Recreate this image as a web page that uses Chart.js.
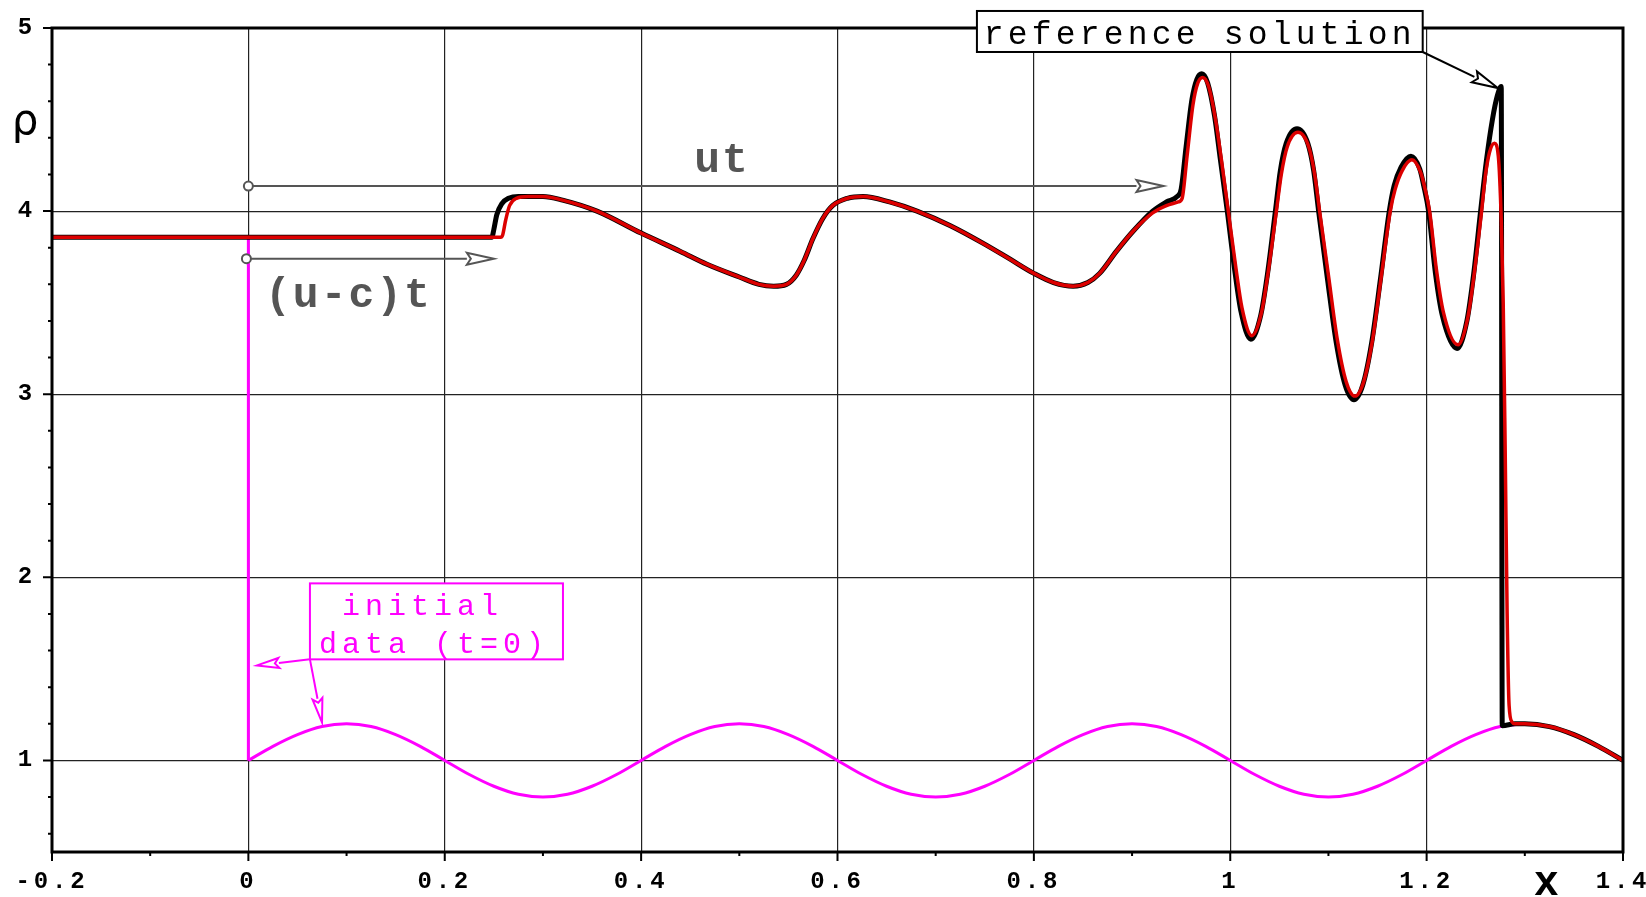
<!DOCTYPE html>
<html lang="en">
<head>
<meta charset="UTF-8">
<title>Density profile</title>
<script src="https://cdn.jsdelivr.net/npm/chart.js"></script>
<style>
html, body { margin: 0; padding: 0; background: #fff; }
#chart { display: block; }
</style>
</head>
<body>
<canvas id="chart" width="1646" height="897"></canvas>
<script>
// axis ticks
const xTicks = [-0.2, 0, 0.2, 0.4, 0.6, 0.8, 1, 1.2, 1.4];
const yTicks = [1, 2, 3, 4, 5];
const xMinor = [-0.1, 0.1, 0.3, 0.5, 0.7, 0.9, 1.1, 1.3];
const yMinor = [0.6, 0.8, 1.2, 1.4, 1.6, 1.8, 2.2, 2.4, 2.6, 2.8, 3.2, 3.4, 3.6, 3.8, 4.2, 4.4, 4.6, 4.8];

// initial data (t=0): jump at x=0, then the sine wave
const initJumpX = [0, 0];
const initJumpY = [3.857, 1.0];
const initX = [0, 0.025, 0.05, 0.075, 0.1, 0.125, 0.15, 0.175, 0.2, 0.225,
    0.25, 0.275, 0.3, 0.325, 0.35, 0.375, 0.4, 0.425, 0.45, 0.475,
    0.5, 0.525, 0.55, 0.575, 0.6, 0.625, 0.65, 0.675, 0.7, 0.725,
    0.75, 0.775, 0.8, 0.825, 0.85, 0.875, 0.9, 0.925, 0.95, 0.975,
    1, 1.025, 1.05, 1.075, 1.1, 1.125, 1.15, 1.175, 1.2, 1.225,
    1.25, 1.275, 1.3];
const initY = [1, 1.077, 1.141, 1.185, 1.2, 1.185, 1.141, 1.077, 1, 0.923,
    0.859, 0.815, 0.8, 0.815, 0.859, 0.923, 1, 1.077, 1.141, 1.185,
    1.2, 1.185, 1.141, 1.077, 1, 0.923, 0.859, 0.815, 0.8, 0.815,
    0.859, 0.923, 1, 1.077, 1.141, 1.185, 1.2, 1.185, 1.141, 1.077,
    1, 0.923, 0.859, 0.815, 0.8, 0.815, 0.859, 0.923, 1, 1.077,
    1.141, 1.185, 1.2];

// numerical solution (red)
const numX = [-0.2, 0.257, 0.259, 0.262, 0.266, 0.273, 0.285, 0.30, 0.32, 0.355,
    0.40, 0.44, 0.467, 0.50, 0.52, 0.535, 0.548, 0.558, 0.566, 0.575,
    0.585, 0.595, 0.61, 0.626, 0.653, 0.681, 0.715, 0.748, 0.775, 0.80,
    0.82, 0.84, 0.855, 0.867, 0.884, 0.901, 0.921, 0.935, 0.947, 0.951,
    0.956, 0.962, 0.967, 0.972, 0.978, 0.985, 0.991, 0.998, 1.006, 1.012,
    1.022, 1.032, 1.039, 1.047, 1.052, 1.058, 1.069, 1.080, 1.086, 1.091,
    1.100, 1.109, 1.118, 1.127, 1.136, 1.145, 1.154, 1.163, 1.168, 1.175,
    1.185, 1.194, 1.198, 1.203, 1.210, 1.217, 1.232, 1.242, 1.249, 1.256,
    1.260, 1.264, 1.269, 1.273, 1.276, 1.278, 1.280, 1.282, 1.284, 1.287,
    1.29, 1.30, 1.325, 1.35, 1.375, 1.4];
const numY = [3.857, 3.857, 3.87, 3.95, 4.03, 4.07, 4.08, 4.08, 4.06, 4.0,
    3.88, 3.78, 3.71, 3.64, 3.60, 3.59, 3.60, 3.65, 3.73, 3.85,
    3.96, 4.03, 4.07, 4.08, 4.05, 4.0, 3.92, 3.825, 3.74, 3.66,
    3.61, 3.59, 3.61, 3.66, 3.78, 3.89, 3.99, 4.03, 4.05, 4.07,
    4.30, 4.58, 4.70, 4.73, 4.68, 4.50, 4.28, 4.0, 3.68, 3.47,
    3.32, 3.45, 3.68, 4.0, 4.20, 4.35, 4.43, 4.35, 4.20, 4.0,
    3.65, 3.30, 3.07, 2.99, 3.07, 3.30, 3.65, 4.0, 4.12, 4.22,
    4.28, 4.21, 4.13, 4.0, 3.68, 3.45, 3.27, 3.42, 3.68, 4.0,
    4.20, 4.32, 4.37, 4.30, 3.95, 3.5, 2.7, 1.8, 1.3, 1.21,
    1.2, 1.2, 1.185, 1.141, 1.077, 1.0];

// reference solution (black)
const refX = [-0.2, 0.248, 0.250, 0.253, 0.258, 0.265, 0.275, 0.29, 0.30, 0.32,
    0.355, 0.40, 0.44, 0.467, 0.50, 0.52, 0.535, 0.548, 0.558, 0.566,
    0.575, 0.585, 0.595, 0.61, 0.626, 0.653, 0.681, 0.715, 0.748, 0.775,
    0.80, 0.82, 0.84, 0.855, 0.867, 0.884, 0.901, 0.921, 0.935, 0.946,
    0.950, 0.955, 0.961, 0.966, 0.971, 0.977, 0.984, 0.990, 0.997, 1.005,
    1.011, 1.021, 1.031, 1.038, 1.046, 1.051, 1.057, 1.068, 1.079, 1.085,
    1.090, 1.099, 1.108, 1.117, 1.126, 1.135, 1.144, 1.153, 1.162, 1.167,
    1.174, 1.184, 1.193, 1.197, 1.202, 1.209, 1.216, 1.231, 1.241, 1.248,
    1.255, 1.261, 1.267, 1.272, 1.276, 1.277, 1.29, 1.30, 1.325, 1.35,
    1.375, 1.4];
const refY = [3.857, 3.857, 3.90, 3.98, 4.04, 4.07, 4.08, 4.08, 4.08, 4.06,
    4.0, 3.88, 3.78, 3.71, 3.64, 3.60, 3.59, 3.60, 3.65, 3.73,
    3.85, 3.96, 4.03, 4.07, 4.08, 4.05, 4.0, 3.92, 3.825, 3.74,
    3.66, 3.61, 3.59, 3.61, 3.66, 3.78, 3.89, 4.0, 4.05, 4.08,
    4.12, 4.35, 4.61, 4.72, 4.75, 4.70, 4.52, 4.28, 4.0, 3.66,
    3.45, 3.30, 3.43, 3.66, 4.0, 4.22, 4.37, 4.45, 4.37, 4.22,
    4.0, 3.63, 3.28, 3.05, 2.97, 3.05, 3.28, 3.63, 4.0, 4.14,
    4.24, 4.30, 4.23, 4.14, 4.0, 3.66, 3.43, 3.25, 3.40, 3.66,
    4.0, 4.28, 4.50, 4.63, 4.68, 1.19, 1.2, 1.2, 1.185, 1.141,
    1.077, 1.0];

const pts = (xs, ys) => xs.map((x, i) => ({ x: x, y: ys[i] }));

function openArrow(ctx, x1, y1, x2, y2, len, half) {
    const a = Math.atan2(y2 - y1, x2 - x1);
    const bx = x2 - len * Math.cos(a), by = y2 - len * Math.sin(a);
    ctx.beginPath();
    ctx.moveTo(x1, y1);
    ctx.lineTo(bx, by);
    ctx.stroke();
    ctx.beginPath();
    ctx.moveTo(x2, y2);
    ctx.lineTo(bx + half * Math.sin(a), by - half * Math.cos(a));
    ctx.lineTo(bx + 4 * Math.cos(a), by + 4 * Math.sin(a));
    ctx.lineTo(bx - half * Math.sin(a), by + half * Math.cos(a));
    ctx.closePath();
    ctx.fillStyle = '#fff';
    ctx.fill();
    ctx.stroke();
}

function ring(ctx, x, y) {
    ctx.beginPath();
    ctx.arc(x, y, 4.5, 0, Math.PI * 2);
    ctx.fillStyle = '#fff';
    ctx.fill();
    ctx.stroke();
}

const frame = {
    id: 'frame',
    beforeDraw(chart) {
        chart.ctx.letterSpacing = '3.8px';
    },
    afterDatasetsDraw(chart) {
        const { ctx, chartArea: a, scales: { x, y } } = chart;
        ctx.save();
        ctx.strokeStyle = '#000';
        ctx.lineWidth = 3;
        ctx.strokeRect(a.left, a.top, a.right - a.left, a.bottom - a.top);
        ctx.lineWidth = 2;
        ctx.beginPath();
        xTicks.forEach(v => { const p = x.getPixelForValue(v); ctx.moveTo(p, a.bottom); ctx.lineTo(p, a.bottom + 9); });
        xMinor.forEach(v => { const p = x.getPixelForValue(v); ctx.moveTo(p, a.bottom); ctx.lineTo(p, a.bottom + 4); });
        yTicks.forEach(v => { const p = y.getPixelForValue(v); ctx.moveTo(a.left, p); ctx.lineTo(a.left - 9, p); });
        yMinor.forEach(v => { const p = y.getPixelForValue(v); ctx.moveTo(a.left, p); ctx.lineTo(a.left - 4, p); });
        ctx.stroke();
        ctx.restore();
    },
    afterDraw(chart) {
        const { ctx, scales: { x, y } } = chart;
        const X = v => x.getPixelForValue(v), Y = v => y.getPixelForValue(v);
        ctx.save();

        // axis titles
        ctx.letterSpacing = '0px';
        ctx.fillStyle = '#000';
        ctx.textAlign = 'center';
        ctx.font = '42px "DejaVu Sans"';
        ctx.fillText('ρ', 25, Y(4.42));
        ctx.font = 'bold 42px "Liberation Mono"';
        ctx.fillText('x', X(1.322), 895);
        ctx.textAlign = 'left';

        // ut and (u-c)t arrows
        ctx.strokeStyle = '#555';
        ctx.lineWidth = 2;
        openArrow(ctx, X(0), Y(4.137), X(0.932), Y(4.137), 27, 6);
        ring(ctx, X(0), Y(4.137));
        openArrow(ctx, X(-0.002), Y(3.74), X(0.25), Y(3.74), 27, 6);
        ring(ctx, X(-0.002), Y(3.74));
        ctx.fillStyle = '#555';
        ctx.font = 'bold 43px "Liberation Mono"';
        ctx.letterSpacing = '2px';
        ctx.fillText('ut', X(0.454), Y(4.213));
        ctx.fillText('(u-c)t', X(0.017), Y(3.475));

        // reference solution label
        ctx.strokeStyle = '#000';
        ctx.lineWidth = 2;
        openArrow(ctx, X(1.196), Y(4.869), X(1.2725), Y(4.672), 26, 6);
        ctx.fillStyle = '#fff';
        ctx.fillRect(X(0.742), Y(5.093), X(1.196) - X(0.742), Y(4.869) - Y(5.093));
        ctx.strokeRect(X(0.742), Y(5.093), X(1.196) - X(0.742), Y(4.869) - Y(5.093));
        ctx.fillStyle = '#000';
        ctx.font = '33px "Liberation Mono"';
        ctx.letterSpacing = '4.2px';
        ctx.fillText('reference solution', X(0.749), Y(4.913));

        // initial data label
        ctx.strokeStyle = '#ff00ff';
        ctx.lineWidth = 2;
        openArrow(ctx, X(0.0627), Y(1.552), X(0.0088), Y(1.519), 22, 5);
        openArrow(ctx, X(0.0627), Y(1.552), X(0.075), Y(1.208), 24, 5);
        ctx.fillStyle = '#fff';
        ctx.fillRect(X(0.0627), Y(1.967), X(0.3204) - X(0.0627), Y(1.552) - Y(1.967));
        ctx.strokeRect(X(0.0627), Y(1.967), X(0.3204) - X(0.0627), Y(1.552) - Y(1.967));
        ctx.fillStyle = '#ff00ff';
        ctx.font = '30px "Liberation Mono"';
        ctx.letterSpacing = '5px';
        ctx.fillText('initial', X(0.0953), Y(1.792));
        ctx.fillText('data (t=0)', X(0.0719), Y(1.585));

        ctx.restore();
    }
};

const tickFont = { family: 'Liberation Mono', size: 24, weight: 'bold' };

new Chart(document.getElementById('chart'), {
    type: 'scatter',
    data: {
        datasets: [
            { label: 'numerical', data: pts(numX, numY), showLine: true, borderColor: '#dc0000', borderWidth: 3.5, pointRadius: 0, cubicInterpolationMode: 'monotone' },
            { label: 'reference solution', data: pts(refX, refY), showLine: true, borderColor: '#000', borderWidth: 5, pointRadius: 0, cubicInterpolationMode: 'monotone' },
            { label: 'initial data', data: pts(initX, initY), showLine: true, borderColor: '#ff00ff', borderWidth: 3, pointRadius: 0, cubicInterpolationMode: 'monotone' },
            { label: 'initial jump', data: pts(initJumpX, initJumpY), showLine: true, borderColor: '#ff00ff', borderWidth: 3, pointRadius: 0, tension: 0 }
        ]
    },
    options: {
        responsive: false,
        animation: false,
        devicePixelRatio: 1,
        layout: { padding: { top: 28, right: 23, left: 0, bottom: 0 } },
        plugins: { legend: { display: false }, tooltip: { enabled: false } },
        scales: {
            x: {
                type: 'linear', min: -0.2, max: 1.4,
                afterBuildTicks: s => { s.ticks = xTicks.map(v => ({ value: v })); },
                afterFit: s => { s.height = 45; s.paddingLeft = 0; s.paddingRight = 0; },
                grid: { color: '#222', lineWidth: 1.2, drawTicks: false },
                border: { display: false },
                ticks: { padding: 16, color: '#000', font: tickFont, maxRotation: 0, autoSkip: false, callback: v => String(v) }
            },
            y: {
                type: 'linear', min: 0.5, max: 5,
                afterBuildTicks: s => { s.ticks = yTicks.map(v => ({ value: v })); },
                afterFit: s => { s.width = 52; s.paddingTop = 0; s.paddingBottom = 0; },
                grid: { color: '#222', lineWidth: 1.2, drawTicks: false },
                border: { display: false },
                ticks: { padding: 16, color: '#000', font: tickFont, autoSkip: false, callback: v => String(v) }
            }
        }
    },
    plugins: [frame]
});
</script>
</body>
</html>
